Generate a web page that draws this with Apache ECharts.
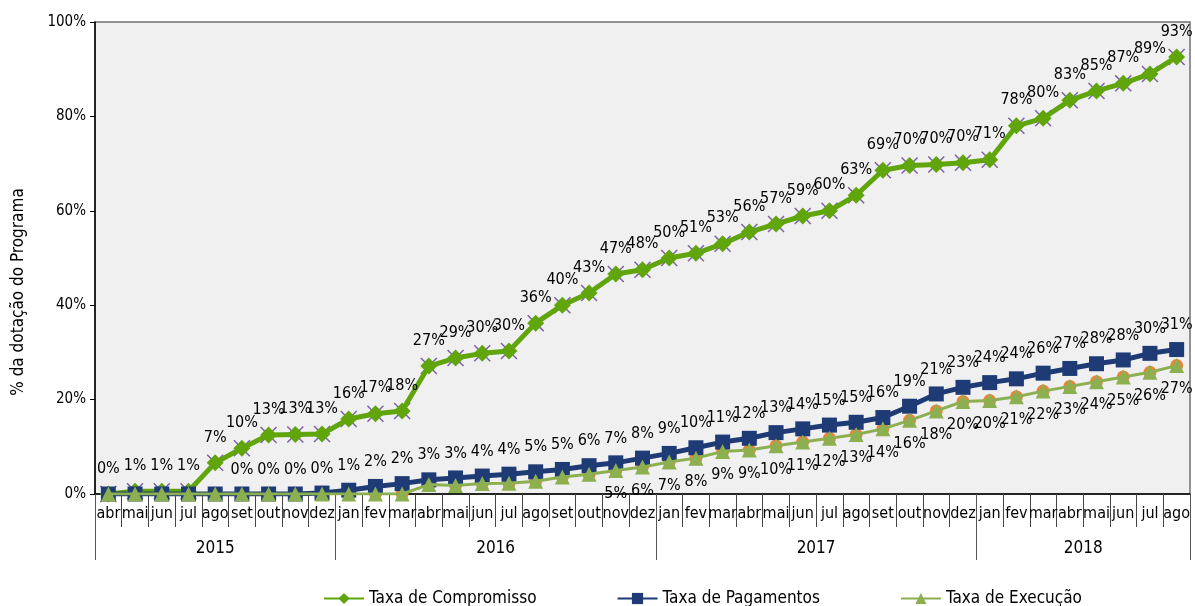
<!DOCTYPE html>
<html><head><meta charset="utf-8">
<script src="https://cdn.jsdelivr.net/npm/echarts@6/dist/echarts.min.js"></script>
<style>html,body{margin:0;padding:0;background:#fff}#c{width:1195px;height:606px}</style>
</head><body><div id="c"></div>
<script>
var months = ['abr','mai','jun','jul','ago','set','out','nov','dez',
 'jan','fev','mar','abr','mai','jun','jul','ago','set','out','nov','dez',
 'jan','fev','mar','abr','mai','jun','jul','ago','set','out','nov','dez',
 'jan','fev','mar','abr','mai','jun','jul','ago'];
var years = ['2015','2016','2017','2018'];
var yearStart = [0, 9, 21, 33, 41];
var compromisso = [0,0.6,0.6,0.6,6.6,9.7,12.5,12.6,12.7,
 15.9,17,17.6,27.1,28.8,29.8,30.3,36.2,40,42.6,46.6,47.5,
 50,51,53,55.5,57.2,58.9,60,63.3,68.6,69.6,69.8,70.2,
 70.8,78,79.6,83.4,85.4,87,89,92.6];
var pagamentos = [0,0,0,0,0,0,0,0,0.2,
 0.8,1.6,2.2,3,3.4,3.8,4.2,4.7,5.2,6,6.6,7.6,
 8.6,9.8,11,11.8,13,13.8,14.6,15.2,16.2,18.6,21.2,22.6,
 23.6,24.4,25.6,26.6,27.6,28.4,29.8,30.6];
var execucao = [0,0,0,0,0,0,0,0,0,
 0,0,0,2,1.8,2.2,2.3,2.7,3.6,4.2,5,5.7,
 6.8,7.6,9,9.3,10.2,11,11.8,12.6,13.8,15.6,17.6,19.6,
 19.8,20.6,21.8,22.8,23.8,24.8,25.8,27.2];
var seriesNames = ['Taxa de Compromisso','Taxa de Pagamentos','Taxa de Execução'];

var FONT = '"DejaVu Sans Condensed","Liberation Sans",sans-serif';
var chart = echarts.init(document.getElementById('c'), null, {renderer:'canvas'});
function lbl(minIdx){
  return function(p){ return p.dataIndex < minIdx ? '' : Math.round(p.value) + '%'; };
}
var xPath = 'path://M0,0.6 L0.6,0 L5,4.4 L9.4,0 L10,0.6 L5.6,5 L10,9.4 L9.4,10 L5,5.6 L0.6,10 L0,9.4 L4.4,5 Z';
chart.setOption({
  animation:false,
  textStyle:{fontFamily:FONT},
  grid:{left:95,right:5,top:22,bottom:112,show:true,backgroundColor:'#F0F0F0',borderColor:'#707070',borderWidth:1.5},
  legend:{
    data:seriesNames, top:585, left:318, itemGap:80, itemWidth:40, itemHeight:14,
    textStyle:{fontFamily:FONT,fontSize:17,color:'#000'}
  },
  xAxis:[{
    type:'category', data:months, boundaryGap:true,
    axisLine:{lineStyle:{color:'#000',width:1.5}},
    axisTick:{show:true,interval:0,length:33,lineStyle:{color:'#444'}},
    axisLabel:{interval:0,margin:12,fontSize:16,color:'#000',fontFamily:FONT},
    splitLine:{show:false}
  },{
    type:'value', min:0, max:41, position:'bottom', gridIndex:0,
    axisLine:{show:false},
    splitLine:{show:false},
    axisTick:{show:true,inside:false,length:66,customValues:yearStart,lineStyle:{color:'#555'}},
    axisLabel:{show:true,margin:46,fontSize:17,color:'#000',fontFamily:FONT,
      customValues:years.map(function(y,i){return (yearStart[i]+yearStart[i+1])/2;}),
      formatter:function(v){
        for(var i=0;i<years.length;i++){ if(v>yearStart[i] && v<yearStart[i+1]) return years[i]; }
        return '';
      }}
  }],
  yAxis:{
    type:'value', min:0, max:100, interval:20,
    name:'% da dotação do Programa', nameLocation:'middle', nameGap:68, nameRotate:90,
    nameTextStyle:{fontSize:17,color:'#000',fontFamily:FONT,padding:[0,68,0,0]},
    axisLine:{show:true,lineStyle:{color:'#000',width:1.5}},
    axisTick:{show:true,length:5,lineStyle:{color:'#000'}},
    axisLabel:{formatter:'{value}%',fontSize:15,color:'#000',margin:9,fontFamily:FONT},
    splitLine:{show:false}
  },
  series:[
    {name:'_x', type:'line', data:compromisso, z:1, symbol:xPath, symbolSize:17,
     showAllSymbol:true, lineStyle:{width:0,opacity:0}, itemStyle:{color:'#7C5DA8'}, silent:true},
    {name:'_o', type:'line', data:execucao, z:1, symbol:'circle', symbolSize:13,
     showAllSymbol:true, lineStyle:{width:0,opacity:0}, itemStyle:{color:'#E8843C'}, silent:true},
    {name:seriesNames[0], type:'line', data:compromisso, z:3, symbol:'diamond', symbolSize:17,
     showAllSymbol:true, lineStyle:{width:5,color:'#5FA50B'}, itemStyle:{color:'#5FA50B'},
     label:{show:true,position:'top',distance:9,fontSize:16,color:'#000',fontFamily:FONT,formatter:lbl(0)}},
    {name:seriesNames[1], type:'line', data:pagamentos, z:3, symbol:'rect', symbolSize:15,
     showAllSymbol:true, lineStyle:{width:5,color:'#1F3B76'}, itemStyle:{color:'#1F3B76'},
     label:{show:true,position:'top',distance:9,fontSize:16,color:'#000',fontFamily:FONT,formatter:lbl(5)}},
    {name:seriesNames[2], type:'line', data:execucao, z:4, symbol:'triangle', symbolSize:15,
     showAllSymbol:true, lineStyle:{width:3,color:'#8CAF50'}, itemStyle:{color:'#8CAF50'},
     label:{show:true,position:'bottom',distance:8,fontSize:16,color:'#000',fontFamily:FONT,formatter:lbl(19)}}
  ]
});
</script></body></html>
